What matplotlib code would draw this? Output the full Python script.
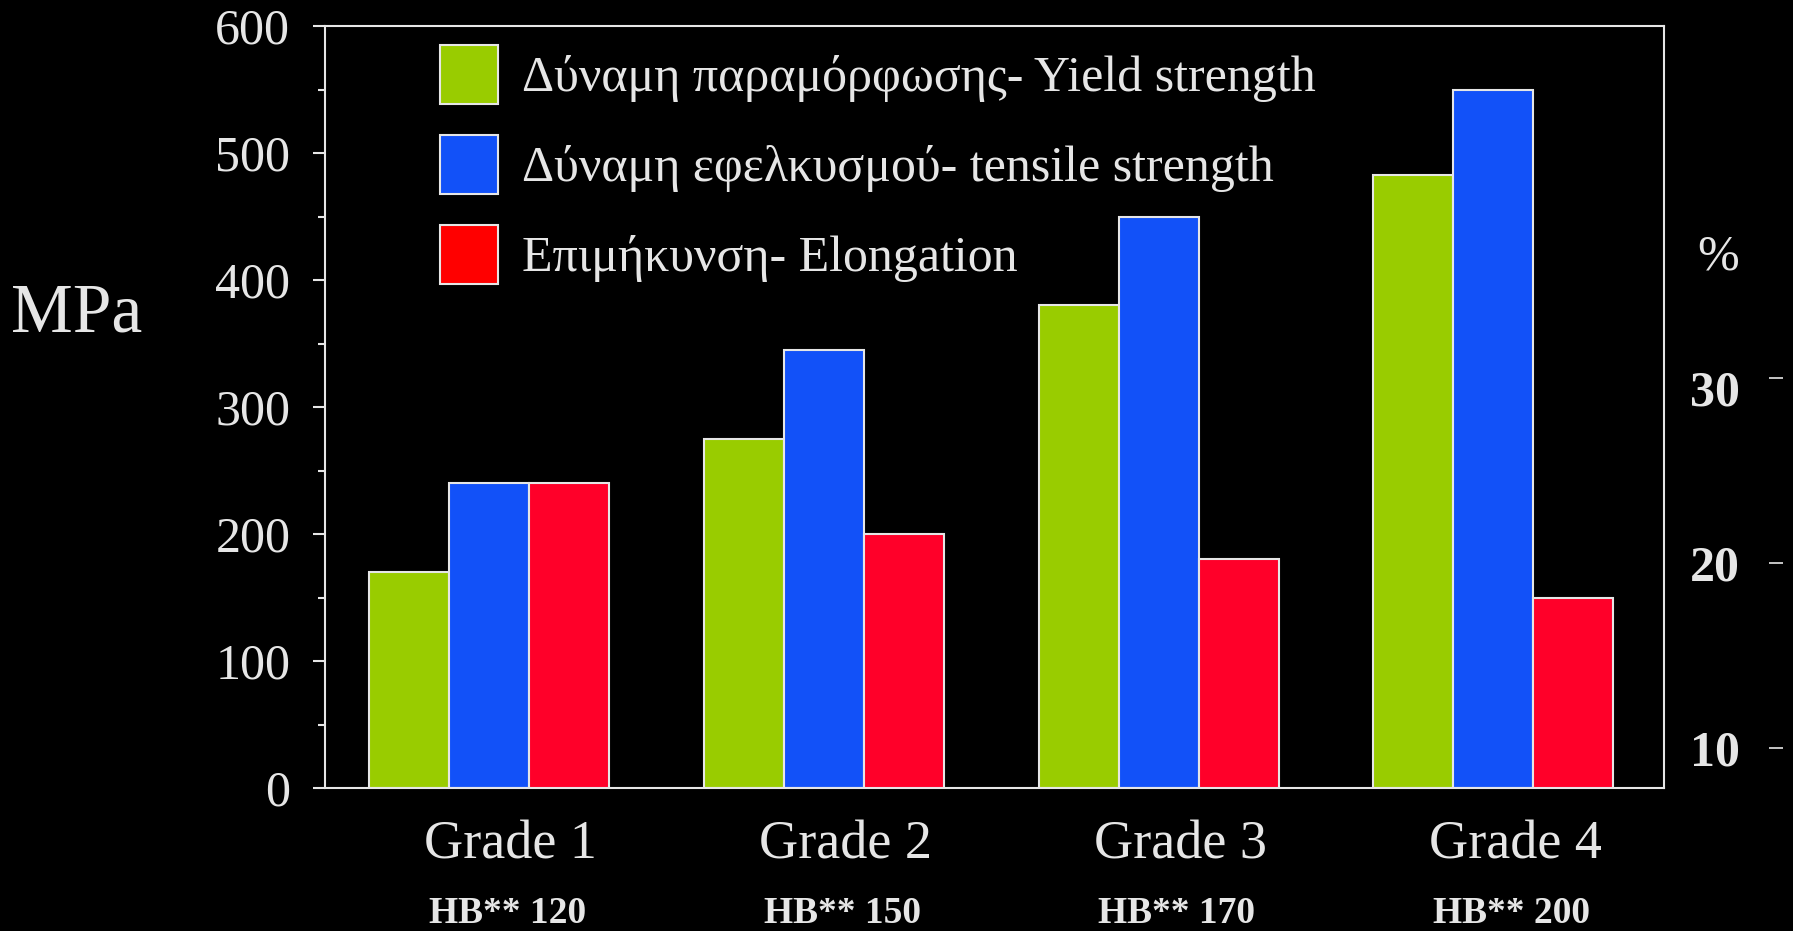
import matplotlib.pyplot as plt
import matplotlib.transforms as mtransforms
import numpy as np
from matplotlib.patches import Patch

# titanium grades: strengths in MPa, elongation in %
grades = ["Grade 1", "Grade 2", "Grade 3", "Grade 4"]
hardness = ["HB** 120", "HB** 150", "HB** 170", "HB** 200"]
yield_mpa = [170, 275, 380, 483]
tensile_mpa = [240, 345, 450, 550]
elongation_pct = [24, 20, 18, 15]

mpa_ticks = [0, 100, 200, 300, 400, 500, 600]
pct_ticks = [10, 20, 30]
legend_labels = [
    "Δύναμη παραμόρφωσης- Yield strength",
    "Δύναμη εφελκυσμού- tensile strength",
    "Επιμήκυνση- Elongation",
]

GREEN = "#99CC00"
BLUE = "#1251F8"
RED = "#FF0029"
FG = "#E6E6E6"
FONT = "Liberation Serif"

plt.rcParams["font.family"] = FONT
plt.rcParams["text.color"] = FG

W, H = 1793, 931
fig = plt.figure(figsize=(W / 100, H / 100), dpi=100, facecolor="black")
ax = fig.add_axes([325 / W, 1 - 788 / H, 1339 / W, 762 / H], facecolor="black")
ax2 = ax.twinx()

x = np.arange(len(grades))
bw = 0.239
bar_kw = dict(width=bw, edgecolor=FG, linewidth=1.5)
ax.bar(x - bw, yield_mpa, color=GREEN, **bar_kw)
ax.bar(x, tensile_mpa, color=BLUE, **bar_kw)
ax2.bar(x + bw, elongation_pct, color=RED, **bar_kw)

ax.set_xlim(-0.49, 3.51)
ax.set_ylim(0, 600)
ax2.set_ylim(0, 60)
ax2.axis("off")

ax.set_yticks(mpa_ticks)
ax.set_yticks(np.arange(50, 600, 100), minor=True)
ax.set_xticks([])
ax.tick_params(axis="y", which="major", length=9, width=1.5, color=FG,
               labelcolor=FG, labelsize=36, pad=16)
ax.tick_params(axis="y", which="minor", length=5, width=1.5, color=FG)
for s in ax.spines.values():
    s.set_color(FG)
    s.set_linewidth(1.5)

# grade names and hardness under each group
tr = ax.get_xaxis_transform()
for xi, g, hb in zip(x, grades, hardness):
    ax.text(xi + 0.065, -0.093, g, transform=tr, ha="center", va="baseline",
            fontsize=39, color=FG)
    ax.text(xi + 0.055, -0.177, hb, transform=tr, ha="center", va="baseline",
            fontsize=27, fontweight="bold", color=FG)

fig.text(11 / W, 1 - 332 / H, "MPa", fontsize=50, ha="left", va="baseline")

# detached percent scale on the right
ax3 = fig.add_axes([1783 / W, 1 - 788 / H, 0.0001, 762 / H])
ax3.set_facecolor("none")
ax3.set_ylim(7.84, 49.03)
ax3.set_xticks([])
ax3.set_yticks(pct_ticks)
ax3.tick_params(axis="y", length=10, width=1.2, color=FG, labelcolor=FG,
                labelsize=36, pad=21)
for lab in ax3.get_yticklabels():
    lab.set_fontweight("bold")
# the "30" sits a little below its tick in the original slide
shift = mtransforms.ScaledTranslation(0, -0.1, fig.dpi_scale_trans)
top_lab = ax3.get_yticklabels()[-1]
top_lab.set_transform(top_lab.get_transform() + shift)
for s in ax3.spines.values():
    s.set_visible(False)
fig.text(1739 / W, 1 - 270 / H, "%", fontsize=36, ha="right", va="baseline")

handles = [Patch(facecolor=c, edgecolor=FG, linewidth=1.5)
           for c in [GREEN, BLUE, "#FF0000"]]
fig.legend(handles, legend_labels, loc="upper left",
           bbox_to_anchor=(440 / W, 1 - 45 / H), frameon=False,
           fontsize=36, handlelength=1.15, handleheight=1.44,
           handletextpad=0.5, labelspacing=0.62, borderpad=0,
           borderaxespad=0)

fig.savefig("out.png", dpi=100, facecolor="black")
